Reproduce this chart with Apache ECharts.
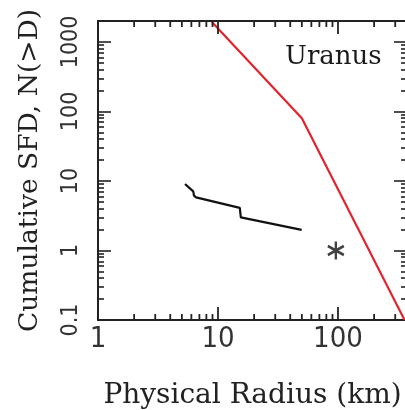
<!DOCTYPE html>
<html>
<head>
<meta charset="utf-8">
<script src="https://cdn.jsdelivr.net/npm/echarts@6/dist/echarts.min.js"></script>
<style>
  html, body { margin: 0; padding: 0; background: #ffffff; }
  #chart { width: 405px; height: 410px; }
</style>
</head>
<body>
<div id="chart"></div>
<script>
// Axis ranges (data units)
const xMin = 1, xMax = 376;
const yMin = 0.1, yMax = 2000;

// Tick positions and labels
const xMajorTicks = [1, 10, 100];
const xTickLabels = ['1', '10', '100'];
const xMinorTicks = [2, 3, 4, 5, 6, 7, 8, 9, 20, 30, 40, 50, 60, 70, 80, 90, 200, 300];
const yMajorTicks = [0.1, 1, 10, 100, 1000];
const yTickLabels = ['0.1', '1', '10', '100', '1000'];
const yMinorTicks = [0.2, 0.3, 0.4, 0.5, 0.6, 0.7, 0.8, 0.9,
                     2, 3, 4, 5, 6, 7, 8, 9,
                     20, 30, 40, 50, 60, 70, 80, 90,
                     200, 300, 400, 500, 600, 700, 800, 900, 2000];

// Model cumulative SFD (red broken power law)
const modelRadius = [8.9, 50, 359];
const modelN = [1930, 80, 0.1];

// Known satellites, cumulative count
const moonRadius = [5.31, 6.22, 6.31, 6.56, 15.2, 15.5, 49.8];
const moonN = [9.04, 7.08, 6.15, 5.81, 4.10, 3.00, 1.98];

// Single object
const pointRadius = [96];
const pointN = [1];

const lg = Math.log10;
const pairs = (xs, ys) => xs.map((x, i) => [lg(x), lg(ys[i])]);

const axisColor = '#222222';
const tickFont = "'Liberation Sans Narrow', 'DejaVu Sans Condensed', 'Liberation Sans', sans-serif";
const serifFont = "'DejaVu Serif', 'Liberation Serif', serif";

function labelFor(ticks, labels) {
  const logs = ticks.map(lg);
  return function (v) {
    const i = logs.findIndex(t => Math.abs(t - v) < 1e-6);
    return i >= 0 ? labels[i] : '';
  };
}

// Vertical axes: two stacked axes per side, one for the long decade ticks,
// one for the short ticks in between.
function makeYAxis(position, ticks, len, opts) {
  return Object.assign({
    type: 'value',
    position: position,
    min: lg(yMin),
    max: lg(yMax),
    axisLine: { show: true, onZero: false, lineStyle: { color: axisColor, width: 2 } },
    axisTick: {
      show: true, inside: true, length: len,
      customValues: ticks.map(lg),
      lineStyle: { color: axisColor, width: 1.6 }
    },
    axisLabel: { show: false },
    splitLine: { show: false }
  }, opts || {});
}

function makeXAxis(position, opts) {
  return Object.assign({
    type: 'value',
    position: position,
    min: lg(xMin),
    max: lg(xMax),
    axisLine: { show: true, onZero: false, lineStyle: { color: axisColor, width: 2 } },
    axisTick: { show: false },
    axisLabel: { show: false },
    splitLine: { show: false }
  }, opts || {});
}

// Inward ticks on the bottom (edge = yMin) or top (edge = yMax) border,
// drawn as thin bar-shaped symbols placed through the x scale.
function makeXTickSeries(ticks, len, edge, dir) {
  return {
    type: 'scatter',
    xAxisIndex: 0, yAxisIndex: 0,
    silent: true,
    clip: false,
    z: 10,
    data: ticks.map(v => [lg(v), lg(edge)]),
    symbol: 'rect',
    symbolSize: [1.8, len],
    symbolOffset: [0, dir * len / 2],
    itemStyle: { color: axisColor, opacity: 1 },
    emphasis: { disabled: true }
  };
}

const chart = echarts.init(document.getElementById('chart'), null, { renderer: 'canvas' });

const option = {
  animation: false,
  backgroundColor: '#ffffff',
  grid: {
    left: 98, top: 21, width: 309, height: 299,
    outerBoundsMode: 'none'
  },
  xAxis: [
    makeXAxis('bottom', {
      axisLabel: {
        show: true,
        customValues: xMajorTicks.map(lg),
        formatter: labelFor(xMajorTicks, xTickLabels),
        fontFamily: tickFont, fontSize: 29, color: '#333', margin: 5
      },
      name: 'Physical Radius (km)',
      nameLocation: 'middle',
      nameGap: 62,
      nameTextStyle: { fontFamily: serifFont, fontSize: 28, color: '#222' }
    }),
    makeXAxis('top')
  ],
  yAxis: [
    makeYAxis('left', yMajorTicks, 13, {
      axisLabel: {
        show: true,
        rotate: 90,
        customValues: yMajorTicks.map(lg),
        formatter: labelFor(yMajorTicks, yTickLabels),
        fontFamily: tickFont, fontSize: 23, color: '#333', margin: 15
      },
      name: 'Cumulative SFD, N(>D)',
      nameLocation: 'middle',
      nameGap: 54,
      nameTextStyle: { fontFamily: serifFont, fontSize: 26.5, color: '#222' }
    }),
    makeYAxis('left', yMinorTicks, 6),
    makeYAxis('right', yMajorTicks, 13),
    makeYAxis('right', yMinorTicks, 6)
  ],
  series: [
    makeXTickSeries(xMajorTicks, 13, yMin, -1),
    makeXTickSeries(xMinorTicks, 6, yMin, -1),
    makeXTickSeries(xMajorTicks, 13, yMax, 1),
    makeXTickSeries(xMinorTicks, 6, yMax, 1),
    {
      name: 'model',
      type: 'line',
      xAxisIndex: 0, yAxisIndex: 0,
      data: pairs(modelRadius, modelN),
      showSymbol: false, symbol: 'none',
      lineStyle: { color: '#e3232b', width: 2.2 },
      clip: true, z: 3
    },
    {
      name: 'satellites',
      type: 'line',
      xAxisIndex: 0, yAxisIndex: 0,
      data: pairs(moonRadius, moonN),
      showSymbol: false, symbol: 'none',
      lineStyle: { color: '#111111', width: 2.2 },
      clip: true, z: 3
    },
    {
      name: 'object',
      type: 'scatter',
      xAxisIndex: 0, yAxisIndex: 0,
      data: pairs(pointRadius, pointN),
      symbol: 'path://M0,-10L0,10M-8.66,-5L8.66,5M-8.66,5L8.66,-5',
      symbolSize: [16, 18],
      itemStyle: { color: 'rgba(0,0,0,0)', borderColor: '#111111', borderWidth: 2.5 },
      z: 4
    }
  ],
  graphic: [
    {
      type: 'text',
      x: 285, y: 57,
      style: {
        text: 'Uranus',
        fontFamily: serifFont,
        fontSize: 26,
        fill: '#1a1a1a',
        align: 'left',
        verticalAlign: 'middle'
      },
      z: 10
    }
  ]
};

chart.setOption(option);
</script>
</body>
</html>
